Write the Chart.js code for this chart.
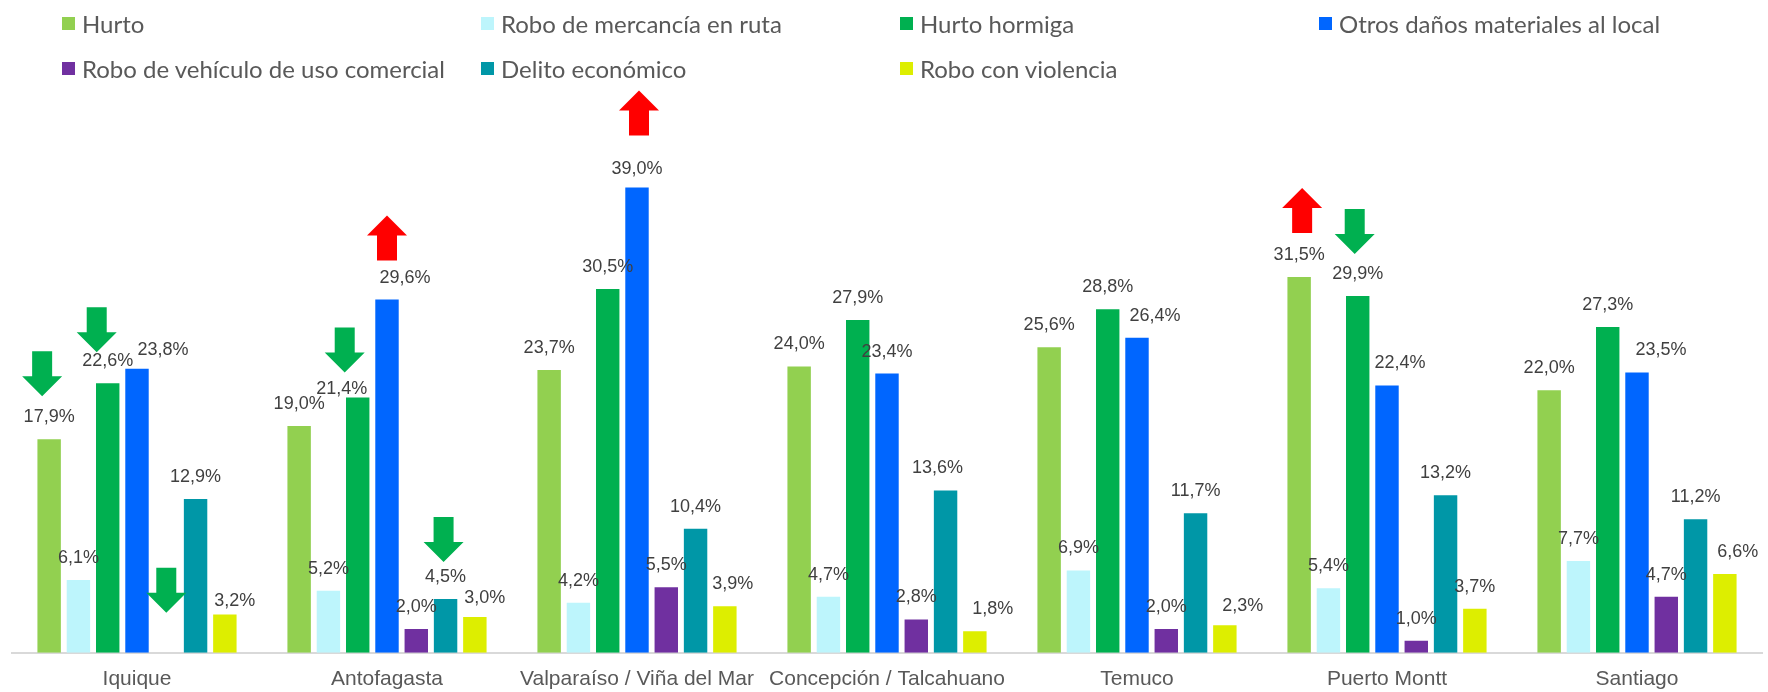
<!DOCTYPE html>
<html>
<head>
<meta charset="utf-8">
<script src="https://cdn.jsdelivr.net/npm/chart.js@4.4.1/dist/chart.umd.min.js"></script>
<style>
  html, body { margin: 0; padding: 0; background: #ffffff; }
  #wrap { position: relative; width: 1768px; height: 692px; }
  #chart { position: absolute; left: 0; top: 0; }
  #legend { position: absolute; left: 62px; top: 6px; display: grid;
            grid-template-columns: repeat(4, 419px); grid-auto-rows: 45px;
            font-family: Lato, "Open Sans", sans-serif; font-size: 24px; color: #595959; }
  .item { display: flex; align-items: center; height: 34px; white-space: nowrap; }
  .box { width: 13px; height: 13px; margin-right: 7px; flex: none; }
</style>
</head>
<body>
<div id="wrap">
  <canvas id="chart" width="1768" height="692"></canvas>
  <div id="legend"></div>
</div>
<script>
// ---------- DATA ----------
const categories = ["Iquique", "Antofagasta", "Valparaíso / Viña del Mar", "Concepción / Talcahuano", "Temuco", "Puerto Montt", "Santiago"];
const seriesNames = ["Hurto", "Robo de mercancía en ruta", "Hurto hormiga", "Otros daños materiales al local", "Robo de vehículo de uso comercial", "Delito económico", "Robo con violencia"];
const hurto            = [17.9, 19.0, 23.7, 24.0, 25.6, 31.5, 22.0];
const roboMercancia    = [6.1, 5.2, 4.2, 4.7, 6.9, 5.4, 7.7];
const hurtoHormiga     = [22.6, 21.4, 30.5, 27.9, 28.8, 29.9, 27.3];
const otrosDanos       = [23.8, 29.6, 39.0, 23.4, 26.4, 22.4, 23.5];
const roboVehiculo     = [null, 2.0, 5.5, 2.8, 2.0, 1.0, 4.7];
const delitoEconomico  = [12.9, 4.5, 10.4, 13.6, 11.7, 13.2, 11.2];
const roboViolencia    = [3.2, 3.0, 3.9, 1.8, 2.3, 3.7, 6.6];
const seriesValues = [hurto, roboMercancia, hurtoHormiga, otrosDanos, roboVehiculo, delitoEconomico, roboViolencia];
// trend markers: [categoryIndex, seriesIndex, direction]
const trendMarks = [[0, 0, "down"], [0, 2, "down"], [0, 4, "down"], [1, 2, "down"], [1, 5, "down"], [1, 3, "up"], [2, 3, "up"], [5, 0, "up"], [5, 2, "down"]];

// ---------- STYLE ----------
const colors = ["#92D050", "#BDF5FC", "#00B050", "#0066FF", "#7030A0", "#0097A7", "#DDEE00"];
// label nudges "cat,series": [dx, dy]
const labelNudge = {"0,3": [26, 3], "0,6": [10, 8], "1,2": [-16, 14], "1,3": [18, 0], "1,6": [10, 3],
  "2,6": [8, 0], "2,3": [0, 4], "3,5": [-8, 0], "3,6": [18, 0], "4,3": [18, 0], "4,6": [18, 3],
  "5,3": [13, 0], "6,3": [24, 0], "6,6": [13, 0]};
// arrow placement "cat,series": [dx, gap above bar top]
const arrowPlace = {"0,0": [-7, 43], "0,2": [-11, 31], "0,4": [0, 40], "1,2": [-13, 25], "1,5": [-2, 37],
  "1,3": [0, 39], "2,3": [2, 52], "5,0": [3, 44], "5,2": [-3, 42]};

// HTML legend
const lg = document.getElementById('legend');
seriesNames.forEach((n, i) => {
  const d = document.createElement('div'); d.className = 'item';
  const b = document.createElement('span'); b.className = 'box'; b.style.background = colors[i];
  const t = document.createElement('span'); t.textContent = n;
  d.appendChild(b); d.appendChild(t); lg.appendChild(d);
});

const labelPlugin = {
  id: 'vlabels',
  afterDatasetsDraw(chart) {
    const ctx = chart.ctx; const ys = chart.scales.y;
    ctx.save();
    ctx.font = '18px "Liberation Sans", Arial, sans-serif';
    ctx.fillStyle = '#404040'; ctx.textAlign = 'center'; ctx.textBaseline = 'middle';
    chart.data.datasets.forEach((ds, si) => {
      const meta = chart.getDatasetMeta(si);
      meta.data.forEach((el, ci) => {
        const v = ds.data[ci];
        if (v === null || v === undefined) return;
        const nd = labelNudge[ci + ',' + si] || [0, 0];
        const top = ys.getPixelForValue(v);
        ctx.fillText(v.toFixed(1).replace('.', ',') + '%', el.x + nd[0], top - 22 + nd[1]);
      });
    });
    ctx.restore();
  }
};

const arrowPlugin = {
  id: 'arrows',
  afterDatasetsDraw(chart) {
    const ctx = chart.ctx; const ys = chart.scales.y;
    ctx.save();
    trendMarks.forEach(([ci, si, dir]) => {
      const el = chart.getDatasetMeta(si).data[ci];
      const v = seriesValues[si][ci] || 0;
      const pl = arrowPlace[ci + ',' + si] || [0, 40];
      const cx = el.x + pl[0];
      const top = ys.getPixelForValue(v) - pl[1];
      const hw = 20, sw = 10, head = 20, shaft = 25;
      ctx.beginPath();
      if (dir === 'down') {
        ctx.fillStyle = '#00B050';
        const tip = top;
        ctx.moveTo(cx, tip);
        ctx.lineTo(cx - hw, tip - head);
        ctx.lineTo(cx - sw, tip - head);
        ctx.lineTo(cx - sw, tip - head - shaft);
        ctx.lineTo(cx + sw, tip - head - shaft);
        ctx.lineTo(cx + sw, tip - head);
        ctx.lineTo(cx + hw, tip - head);
      } else {
        ctx.fillStyle = '#FF0000';
        const bottom = top;
        const tip = bottom - shaft - head;
        ctx.moveTo(cx, tip);
        ctx.lineTo(cx + hw, tip + head);
        ctx.lineTo(cx + sw, tip + head);
        ctx.lineTo(cx + sw, bottom);
        ctx.lineTo(cx - sw, bottom);
        ctx.lineTo(cx - sw, tip + head);
        ctx.lineTo(cx - hw, tip + head);
      }
      ctx.closePath(); ctx.fill();
    });
    ctx.restore();
  }
};

new Chart(document.getElementById('chart'), {
  type: 'bar',
  data: {
    labels: categories,
    datasets: seriesNames.map((n, i) => ({
      label: n, data: seriesValues[i], backgroundColor: colors[i],
      categoryPercentage: 0.82, barPercentage: 0.8
    }))
  },
  options: {
    responsive: false, animation: false,
    layout: { padding: { left: 12, right: 6, top: 92, bottom: -14 } },
    plugins: { legend: { display: false }, tooltip: { enabled: false } },
    scales: {
      x: {
        grid: { display: false, drawTicks: false },
        border: { display: true, color: '#D9D9D9', width: 2 },
        ticks: { color: '#595959', padding: 14, font: { family: '"Liberation Sans", Arial, sans-serif', size: 21 }, maxRotation: 0, autoSkip: false }
      },
      y: { display: false, min: 0, max: 47 }
    }
  },
  plugins: [labelPlugin, arrowPlugin]
});
</script>
</body>
</html>
